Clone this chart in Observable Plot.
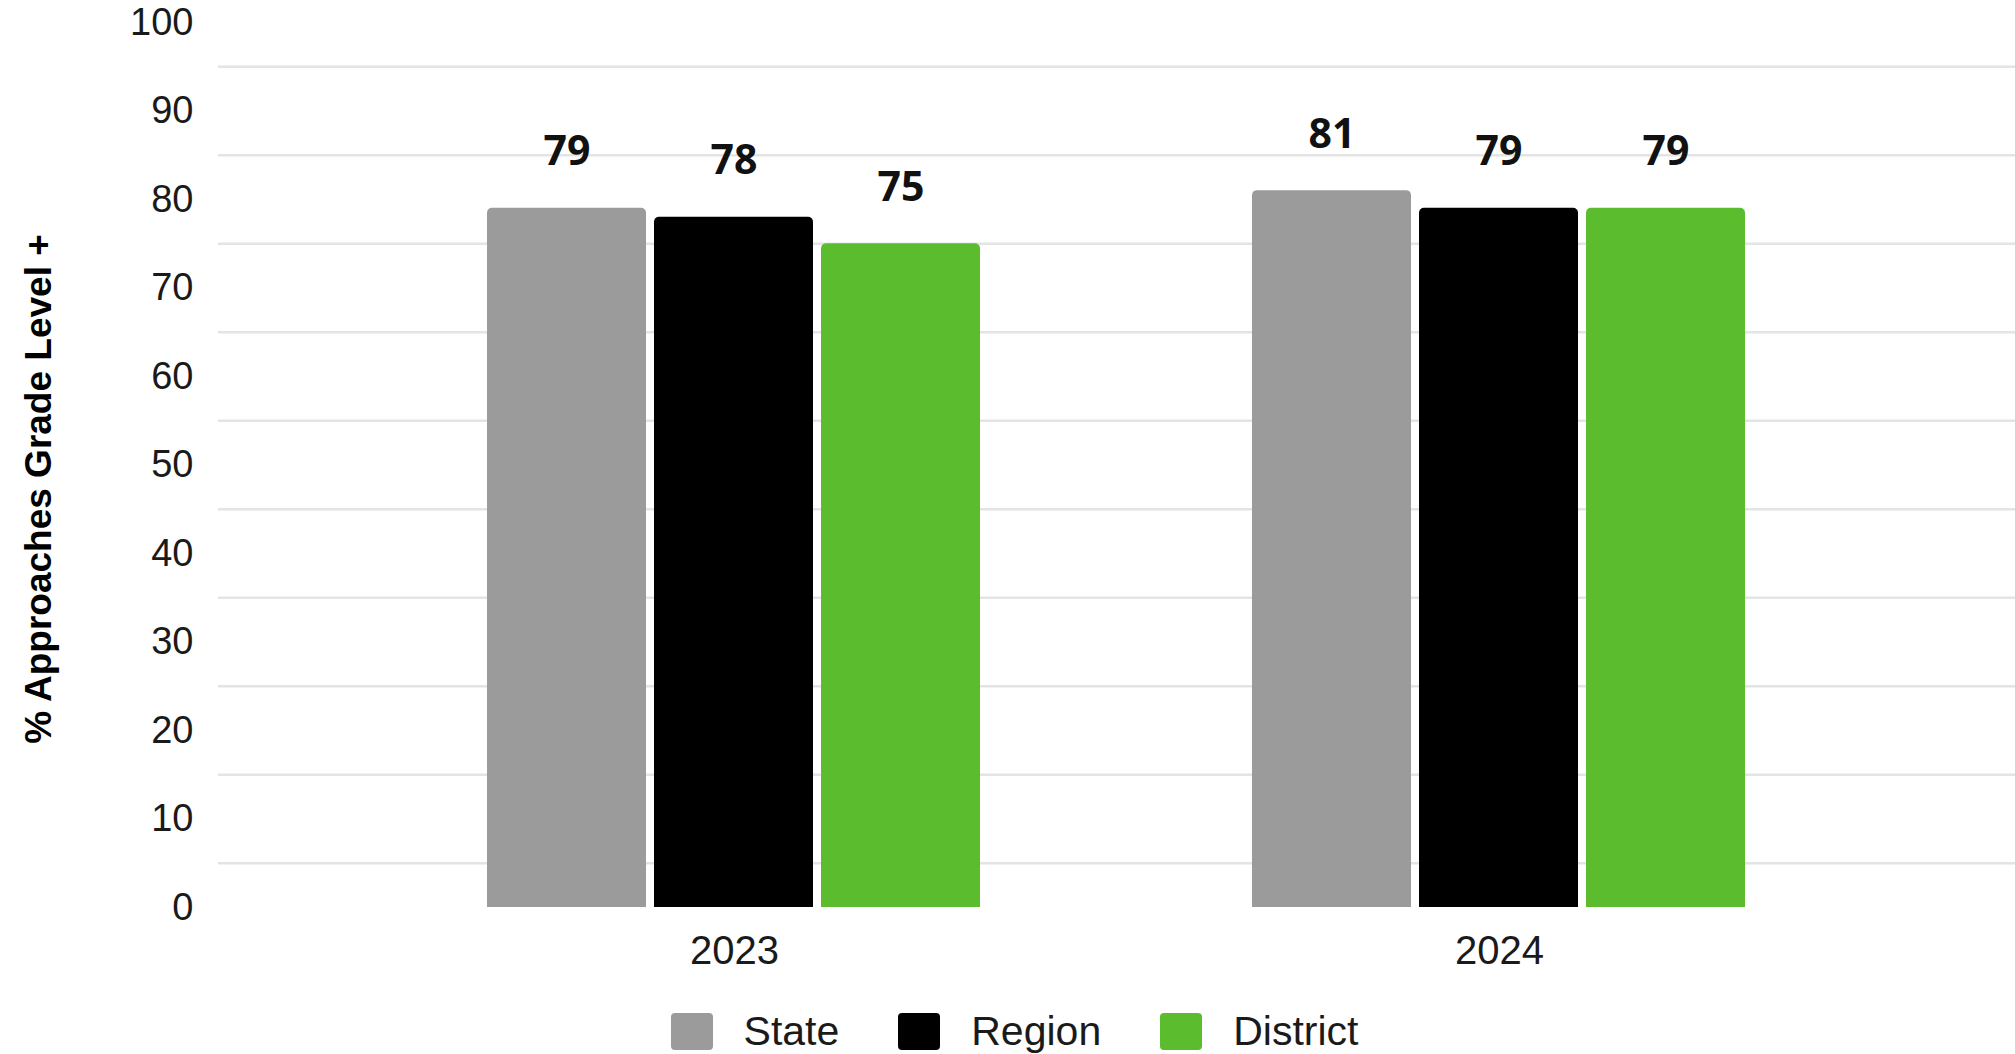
<!DOCTYPE html>
<html>
<head>
<meta charset="utf-8">
<script src="https://cdn.jsdelivr.net/npm/d3@7"></script>
<script src="https://cdn.jsdelivr.net/npm/@observablehq/plot@0.6"></script>
<style>
  html, body { margin: 0; padding: 0; background: #fff; }
  #chart { position: relative; width: 2015px; height: 985px; }
  #chart svg { position: absolute; left: 0; top: 0; }
  #legend {
    width: 2015px;
    box-sizing: border-box;
    padding-left: 14px;
    padding-top: 23px;
    display: flex;
    justify-content: center;
    align-items: center;
    font-family: "Liberation Sans", Arial, sans-serif;
    font-size: 41px;
    line-height: 47px;
    color: #1a1a1a;
  }
  .item { display: flex; align-items: center; margin: 0 29.5px; }
  .swatch { width: 42px; height: 37px; border-radius: 4px; margin-right: 31px; }
</style>
</head>
<body>
<div id="chart"></div>
<div id="legend"></div>
<script>
// Share of students at "Approaches Grade Level" or above, by year and level
const years = ["2023", "2024"];
const groups = ["State", "Region", "District"];
const stateValues = [79, 81];
const regionValues = [78, 79];
const districtValues = [75, 79];
const groupColors = ["#9b9b9b", "#000000", "#5bbd2e"];
const yTicks = [0, 10, 20, 30, 40, 50, 60, 70, 80, 90, 100];
const gridLines = [5, 15, 25, 35, 45, 55, 65, 75, 85, 95];
const yTitle = "% Approaches Grade Level +";

const seriesValues = [stateValues, regionValues, districtValues];
const rows = years.flatMap((year, i) =>
  groups.map((group, j) => ({year, group, value: seriesValues[j][i]}))
);

const tickFont = "Liberation Sans, Arial, sans-serif";
const frame = {
  width: 2015,
  height: 985,
  marginLeft: 218,
  marginRight: 0,
  marginTop: 22,
  marginBottom: 78
};

// Background layer: full-width grid, value axis and its title
const backdrop = Plot.plot({
  ...frame,
  style: {background: "#fff", fontFamily: tickFont, color: "#1a1a1a"},
  y: {domain: [0, 100], label: null},
  marks: [
    Plot.ruleY(gridLines, {stroke: "#e4e4e4", strokeWidth: 2.5}),
    Plot.axisY({ticks: yTicks, tickSize: 0, tickPadding: 25, fontSize: 38, label: null}),
    Plot.text([yTitle], {
      frameAnchor: "left", textAnchor: "middle", rotate: -90, dx: -179, dy: 24,
      fontSize: 37, fontWeight: "bold", fill: "#000"
    })
  ]
});

// Foreground layer: grouped bars faceted by year
const bars = Plot.plot({
  ...frame,
  style: {background: "transparent", fontFamily: tickFont, color: "#1a1a1a"},
  fx: {domain: years, paddingInner: 0.354, paddingOuter: 0.35, label: null},
  x: {domain: groups, paddingInner: 0.045, paddingOuter: 0, axis: null},
  y: {domain: [0, 100], axis: null},
  color: {domain: groups, range: groupColors},
  marks: [
    Plot.axisFx({anchor: "bottom", tickSize: 0, tickPadding: 28, fontSize: 40, label: null}),
    Plot.barY(rows, {fx: "year", x: "group", y: "value", fill: "group", ry1: 5}),
    Plot.text(rows, {
      fx: "year", x: "group", y: "value", text: d => String(d.value),
      lineAnchor: "bottom", dy: -43, fontSize: 41, fontWeight: "bold",
      fontFamily: "Open Sans, Noto Sans, sans-serif", fill: "#111"
    })
  ]
});

const host = document.getElementById("chart");
host.appendChild(backdrop);
host.appendChild(bars);

// Legend below the chart
const legend = document.getElementById("legend");
groups.forEach((g, i) => {
  const item = document.createElement("div");
  item.className = "item";
  const sw = document.createElement("div");
  sw.className = "swatch";
  sw.style.background = groupColors[i];
  const label = document.createElement("span");
  label.textContent = g;
  item.appendChild(sw);
  item.appendChild(label);
  legend.appendChild(item);
});
</script>
</body>
</html>
